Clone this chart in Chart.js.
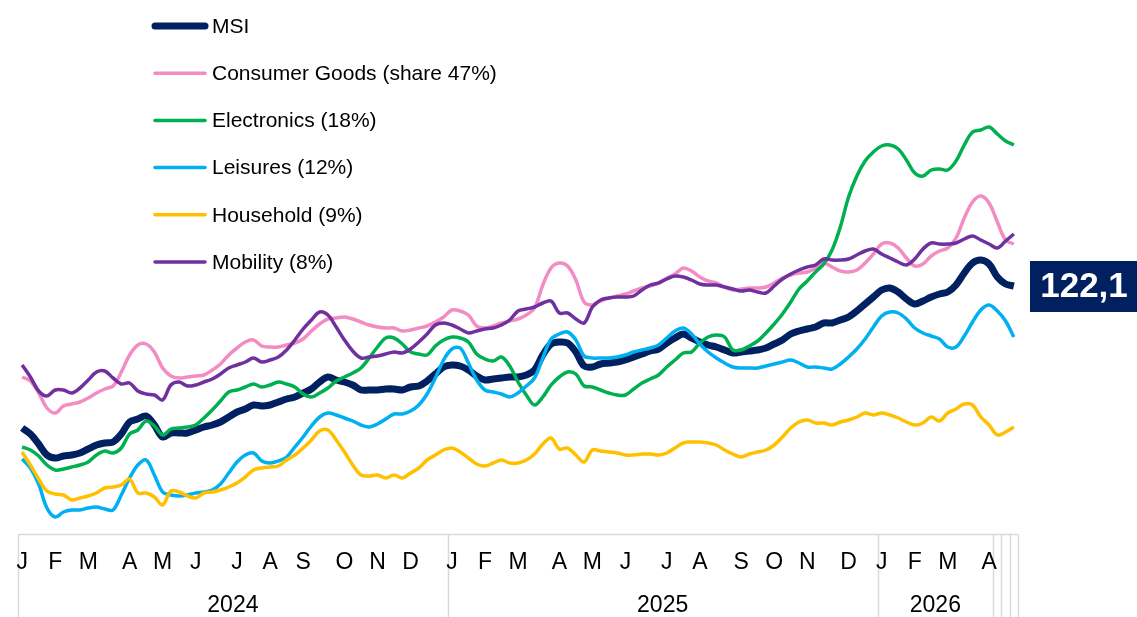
<!DOCTYPE html>
<html>
<head>
<meta charset="utf-8">
<script src="https://cdn.jsdelivr.net/npm/chart.js@4/dist/chart.umd.min.js"></script>
<style>
  html, body { margin: 0; padding: 0; background: #fff; }
  canvas { display: block; }
</style>
</head>
<body>
<canvas id="chart" width="1137" height="617"></canvas>
<script>
// weekly index values, Monday weeks starting 1 Jan 2024
const firstMonday = Date.UTC(2024, 0, 1)
const weekCount = 121
const monthLetters = ['J', 'F', 'M', 'A', 'M', 'J', 'J', 'A', 'S', 'O', 'N', 'D']
const yearGroups = [['2024', 52], ['2025', 52], ['2026', 14], ['', 1], ['', 1], ['', 1]]

const seriesNames = ['MSI', 'Consumer Goods (share 47%)', 'Electronics (18%)', 'Leisures (12%)', 'Household (9%)', 'Mobility (8%)']

const msi = [
  107.9, 107.3, 106.3, 105.2, 104.9, 105.1, 105.2, 105.4, 105.8, 106.2,
  106.4, 106.5, 107.3, 108.5, 108.8, 109.1, 108.2, 107.0, 107.4, 107.4,
  107.4, 107.7, 108.0, 108.2, 108.5, 109.0, 109.5, 109.8, 110.2, 110.1,
  110.2, 110.5, 110.8, 111.0, 111.4, 111.8, 112.5, 113.0, 112.7, 112.5,
  112.2, 111.7, 111.7, 111.7, 111.8, 111.8, 111.7, 112.0, 112.1, 112.6,
  113.3, 114.0, 114.2, 114.1, 113.7, 113.1, 112.7, 112.8, 112.9, 113.0,
  113.0, 113.2, 113.7, 115.2, 116.3, 116.5, 116.4, 115.5, 114.1, 114.0,
  114.3, 114.4, 114.5, 114.7, 115.0, 115.3, 115.6, 115.8, 116.4, 116.9,
  117.3, 116.9, 116.5, 116.2, 116.0, 115.7, 115.4, 115.5, 115.6, 115.7,
  115.9, 116.3, 116.7, 117.3, 117.6, 117.8, 118.0, 118.4, 118.4, 118.7,
  119.0, 119.6, 120.3, 121.0, 121.7, 121.9, 121.5, 120.8, 120.3, 120.6,
  121.0, 121.3, 121.5, 122.2, 123.4, 124.4, 124.7, 124.3, 123.0, 122.3,
  122.1
]
const consumerGoods = [
  113.0, 112.6, 111.4, 109.9, 109.4, 110.1, 110.3, 110.5, 110.9, 111.4,
  111.8, 112.1, 113.5, 115.2, 116.2, 116.3, 115.5, 113.9, 113.1, 112.9,
  113.0, 113.1, 113.2, 113.7, 114.3, 115.2, 115.9, 116.5, 116.7, 116.1,
  116.0, 116.0, 116.2, 116.4, 116.8, 117.6, 118.3, 118.8, 118.9, 119.0,
  118.8, 118.5, 118.2, 118.0, 117.9, 117.9, 117.6, 117.7, 117.9, 118.1,
  118.5, 119.0, 119.7, 119.6, 119.2, 118.1, 117.9, 118.1, 118.4, 118.6,
  118.8, 119.2, 119.9, 122.2, 123.9, 124.4, 124.1, 122.7, 120.5, 120.2,
  120.6, 120.9, 121.1, 121.3, 121.6, 121.9, 122.1, 122.4, 122.9, 123.3,
  123.9, 123.6, 123.0, 122.6, 122.4, 122.0, 121.7, 121.8, 121.9, 121.9,
  122.0, 122.4, 122.9, 123.2, 123.4, 123.5, 123.9, 124.4, 124.0, 123.6,
  123.5, 123.7, 124.4, 125.3, 126.3, 126.4, 125.9, 124.9, 124.1, 124.3,
  125.1, 125.6, 125.9, 126.9, 128.9, 130.5, 131.1, 130.4, 128.5, 126.7,
  126.3
]
const electronics = [
  106.0, 105.7, 105.1, 104.2, 103.7, 103.8, 104.0, 104.2, 104.5, 105.2,
  105.6, 105.4, 105.9, 107.3, 107.7, 108.6, 108.1, 107.2, 107.8, 107.9,
  108.0, 108.2, 108.9, 109.7, 110.6, 111.5, 111.7, 112.0, 112.3, 112.0,
  112.2, 112.5, 112.3, 112.0, 111.3, 111.0, 111.4, 111.9, 112.6, 113.0,
  113.4, 113.9, 114.9, 116.0, 116.9, 116.9, 116.3, 115.5, 115.3, 115.2,
  116.1, 116.7, 117.0, 116.9, 116.5, 115.3, 114.8, 114.6, 115.0, 114.1,
  112.5, 111.2, 110.2, 111.0, 112.2, 113.0, 113.5, 113.3, 112.1, 112.0,
  111.7, 111.4, 111.2, 111.2, 111.8, 112.4, 112.8, 113.2, 114.0, 114.7,
  115.4, 115.5, 116.4, 117.0, 117.2, 117.0, 115.7, 115.7, 116.1, 116.6,
  117.4, 118.3, 119.3, 120.5, 121.8, 122.6, 123.5, 124.3, 125.7, 128.0,
  131.0, 133.1, 134.6, 135.5, 136.1, 136.2, 135.8, 134.7, 133.4, 133.1,
  133.7, 133.8, 133.7, 134.6, 136.2, 137.5, 137.7, 138.0, 137.3, 136.6,
  136.2
]
const leisures = [
  104.8, 103.9, 102.3, 99.9, 99.0, 99.5, 99.7, 99.7, 99.9, 100.0,
  99.8, 99.7, 101.2, 102.9, 104.2, 104.7, 103.2, 101.5, 101.2, 101.1,
  101.2, 101.4, 101.5, 101.7, 102.3, 103.4, 104.5, 105.2, 105.4, 104.6,
  104.4, 104.6, 105.0, 106.0, 107.0, 108.1, 109.0, 109.4, 109.2, 108.9,
  108.6, 108.2, 108.0, 108.3, 108.8, 109.3, 109.3, 109.6, 110.2, 111.3,
  112.9, 114.7, 115.8, 115.9, 114.4, 112.7, 111.7, 111.5, 111.3, 111.0,
  111.4, 112.1, 112.9, 114.9, 116.8, 117.3, 117.5, 116.7, 115.1, 114.9,
  114.9, 114.9, 115.0, 115.2, 115.5, 115.7, 115.9, 116.2, 116.9, 117.6,
  117.9, 117.3, 116.3, 115.5, 114.9, 114.4, 114.0, 113.9, 113.9, 113.9,
  114.1, 114.3, 114.5, 114.7, 114.4, 114.0, 114.0, 113.9, 113.8, 114.3,
  115.0, 115.8, 116.8, 118.0, 119.1, 119.5, 119.4, 118.8, 117.9, 117.4,
  117.1, 116.8, 116.0, 116.0, 117.1, 118.5, 119.7, 120.2, 119.6, 118.6,
  117.0
]
const household = [
  105.5, 104.2, 102.8, 101.6, 101.3, 101.2, 100.7, 100.9, 101.1, 101.4,
  101.9, 102.0, 102.2, 102.8, 101.4, 101.4, 101.0, 100.2, 101.6, 101.5,
  101.1, 100.9, 101.4, 101.5, 101.7, 102.0, 102.4, 103.0, 103.7, 103.9,
  104.0, 104.1, 104.7, 105.2, 105.9, 106.7, 107.6, 107.7, 106.7, 105.5,
  104.2, 103.2, 103.1, 103.2, 102.9, 103.2, 102.9, 103.4, 103.9, 104.7,
  105.2, 105.7, 105.9, 105.5, 104.9, 104.3, 104.1, 104.4, 104.7, 104.4,
  104.4, 104.7, 105.3, 106.3, 106.9, 105.8, 105.9, 105.2, 104.5, 105.7,
  105.6, 105.5, 105.4, 105.2, 105.2, 105.3, 105.3, 105.2, 105.4, 105.9,
  106.4, 106.5, 106.5, 106.4, 106.2, 105.7, 105.3, 105.0, 105.3, 105.5,
  105.7, 106.2, 107.0, 107.9, 108.5, 108.7, 108.4, 108.4, 108.2, 108.5,
  108.7, 109.0, 109.4, 109.2, 109.4, 109.2, 108.9, 108.5, 108.2, 108.4,
  109.0, 108.6, 109.4, 109.8, 110.3, 110.2, 109.0, 108.2, 107.2, 107.5,
  108.0
]
const mobility = [
  114.2, 113.0, 111.6, 111.1, 111.7, 111.7, 111.4, 111.9, 112.7, 113.5,
  113.6, 112.9, 112.3, 112.4, 111.6, 111.3, 111.2, 110.7, 112.2, 112.5,
  112.1, 112.2, 112.5, 112.8, 113.3, 113.9, 114.2, 114.5, 114.9, 114.5,
  114.7, 115.0, 115.7, 116.7, 117.8, 118.7, 119.5, 119.2, 118.0, 116.7,
  115.6, 114.9, 115.0, 115.1, 115.3, 115.5, 115.4, 115.8, 116.5, 117.3,
  118.2, 118.4, 118.2, 117.8, 117.4, 117.6, 117.8, 117.9, 118.2, 118.7,
  119.6, 119.8, 120.0, 120.4, 120.6, 119.4, 119.4, 118.8, 118.4, 120.0,
  120.7, 120.9, 121.0, 121.0, 121.1, 121.7, 122.2, 122.4, 122.8, 123.1,
  123.0, 122.7, 122.3, 122.2, 122.2, 122.0, 121.8, 121.6, 121.7, 121.5,
  121.4, 122.1, 122.8, 123.3, 123.7, 124.0, 124.2, 124.8, 124.7, 124.7,
  124.8, 125.2, 125.6, 125.8, 125.3, 124.9, 124.5, 124.2, 124.8, 125.8,
  126.4, 126.3, 126.3, 126.4, 126.8, 127.1, 126.7, 126.3, 125.9, 126.6,
  127.3
]

// one category per week; the month letter goes on the week holding the 1st
const categories = []
const monthTicks = []
for (let i = 0; i < weekCount; i++) {
  const start = new Date(firstMonday + i * 7 * 86400000)
  const end = new Date(firstMonday + (i * 7 + 6) * 86400000)
  categories.push(start.toISOString().slice(0, 10))
  const holdsFirst = start.getUTCDate() === 1 || end.getUTCMonth() !== start.getUTCMonth()
  monthTicks.push(holdsFirst ? monthLetters[end.getUTCMonth()] : '')
}

const FONT = 'Arial, "Liberation Sans", sans-serif'
const GRID = '#d9d9d9'

const axisBoxes = {
  id: 'axisBoxes',
  afterDraw (chart) {
    const { ctx, chartArea, scales: { x } } = chart
    const half = (x.getPixelForValue(1) - x.getPixelForValue(0)) / 2
    const edge = (i) => x.getPixelForValue(i) - half
    const top = Math.round(chartArea.bottom) + 0.5
    ctx.save()
    ctx.strokeStyle = GRID
    ctx.lineWidth = 1.5
    ctx.beginPath()
    ctx.moveTo(edge(0), top)
    ctx.lineTo(edge(categories.length), top)
    ctx.stroke()

    let from = 0
    const cuts = [0]
    yearGroups.forEach(([label, size]) => {
      const to = from + size
      cuts.push(to)
      ctx.fillStyle = '#000'
      ctx.font = '23px ' + FONT
      ctx.textAlign = 'center'
      ctx.textBaseline = 'middle'
      ctx.fillText(label, (edge(from) + edge(to)) / 2, 606)
      from = to
    })
    cuts.forEach((c) => {
      const px = Math.round(edge(c)) + 0.5
      ctx.beginPath()
      ctx.moveTo(px, top)
      ctx.lineTo(px, chart.height)
      ctx.stroke()
    })

    ctx.fillStyle = '#000'
    ctx.font = '23px ' + FONT
    ctx.textAlign = 'center'
    ctx.textBaseline = 'middle'
    monthTicks.forEach((t, i) => {
      if (t) ctx.fillText(t, x.getPixelForValue(i), 563)
    })
    ctx.restore()
  }
}

const sideLegend = {
  id: 'sideLegend',
  afterDraw (chart) {
    const { ctx } = chart
    ctx.save()
    chart.data.datasets.forEach((ds, i) => {
      const y = 26 + i * 47.2
      ctx.strokeStyle = ds.borderColor
      ctx.lineWidth = i === 0 ? 7 : 3.5
      ctx.lineCap = 'round'
      ctx.beginPath()
      ctx.moveTo(155, y)
      ctx.lineTo(205, y)
      ctx.stroke()
      ctx.fillStyle = '#000'
      ctx.font = '21px ' + FONT
      ctx.textAlign = 'left'
      ctx.textBaseline = 'middle'
      ctx.fillText(ds.label, 212, y + 1)
    })
    ctx.restore()
  }
}

const lastValueTag = {
  id: 'lastValueTag',
  afterDraw (chart) {
    const { ctx, scales: { y } } = chart
    const last = msi[msi.length - 1]
    const py = y.getPixelForValue(last)
    ctx.save()
    ctx.fillStyle = '#002060'
    ctx.fillRect(1030, py - 25, chart.width - 1030, 51)
    ctx.fillStyle = '#fff'
    ctx.font = 'bold 35px ' + FONT
    ctx.textAlign = 'center'
    ctx.textBaseline = 'middle'
    ctx.fillText(last.toFixed(1).replace('.', ','), 1084, py + 1)
    ctx.restore()
  }
}

function line (label, data, color, width, order) {
  return {
    label,
    data,
    borderColor: color,
    backgroundColor: color,
    borderWidth: width,
    pointRadius: 0,
    tension: 0.35,
    fill: false,
    order
  }
}

new Chart(document.getElementById('chart').getContext('2d'), {
  type: 'line',
  data: {
    labels: categories,
    datasets: [
      line(seriesNames[0], msi, '#002060', 7, 6),
      line(seriesNames[1], consumerGoods, '#F28CC3', 3.5, 5),
      line(seriesNames[2], electronics, '#00B050', 3.5, 4),
      line(seriesNames[3], leisures, '#00B0F0', 3.5, 3),
      line(seriesNames[4], household, '#FFC000', 3.5, 2),
      line(seriesNames[5], mobility, '#7030A0', 3.5, 1)
    ]
  },
  options: {
    responsive: false,
    devicePixelRatio: 1,
    animation: false,
    layout: { padding: { left: 18, right: 119, top: 0, bottom: 83 } },
    plugins: { legend: { display: false }, tooltip: { enabled: false } },
    scales: {
      x: { display: false, offset: true },
      y: { display: false, min: 97.3, max: 150.7 }
    }
  },
  plugins: [axisBoxes, sideLegend, lastValueTag]
})
</script>
</body>
</html>
